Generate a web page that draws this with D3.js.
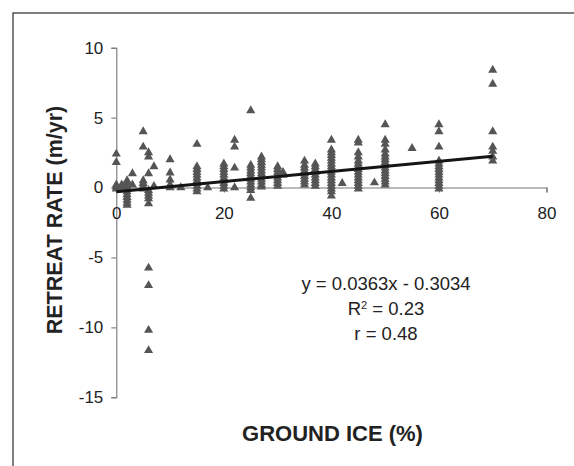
<!DOCTYPE html>
<html>
<head>
<meta charset="utf-8">
<script src="https://cdn.jsdelivr.net/npm/d3@7"></script>
<style>
  html, body { margin: 0; padding: 0; background: #fff; }
  svg { display: block; }
  text { font-family: "Liberation Sans", Arial, sans-serif; fill: #222; }
</style>
</head>
<body>
<svg id="chart" width="574" height="466"></svg>
<script>
// Ground ice content (%) and shoreline retreat rate (m/yr), grouped by ice column
const groundIce = [
  0, 0, 0, 0, 0,
  1, 1, 1,
  2, 2, 2, 2, 2, 2, 2, 2, 2, 2,
  3, 3,
  5, 5, 5, 5, 5, 5,
  6, 6, 6, 6, 6, 6, 6, 6, 6, 6, 6, 6,
  7, 7,
  10, 10, 10, 10, 10,
  12,
  15, 15, 15, 15, 15, 15, 15, 15, 15, 15, 15,
  17,
  20, 20, 20, 20, 20, 20, 20, 20, 20, 20,
  22, 22, 22, 22,
  25, 25, 25, 25, 25, 25, 25, 25, 25, 25, 25, 25,
  27, 27, 27, 27, 27, 27, 27, 27, 27, 27, 27, 27,
  30, 30, 30, 30, 30, 30, 30, 30,
  31, 31,
  35, 35, 35, 35, 35, 35, 35, 35, 35,
  37, 37, 37, 37, 37, 37, 37, 37, 37,
  40, 40, 40, 40, 40, 40, 40, 40, 40, 40, 40, 40, 40, 40, 40, 40, 40, 40,
  42,
  45, 45, 45, 45, 45, 45, 45, 45, 45, 45, 45, 45, 45, 45, 45,
  48,
  50, 50, 50, 50, 50, 50, 50, 50, 50, 50, 50, 50, 50, 50, 50, 50,
  55,
  60, 60, 60, 60, 60, 60, 60, 60, 60, 60, 60, 60, 60, 60,
  70, 70, 70, 70, 70, 70, 70
];
const retreatRate = [
  2.4, 1.8, 0.2, 0.05, -0.1,
  0.2, 0.05, -0.05,
  0.5, 0.3, 0.1, -0.1, -0.3, -0.5, -0.7, -0.9, -1.1, -1.25,
  1.0, 0.2,
  4.0, 2.9, 0.5, 0.3, 0.1, -0.1,
  2.5, 2.2, 1.0, -0.2, -0.4, -0.6, -0.8, -1.15, -5.75, -7.0, -10.2, -11.65,
  1.5, 0.1,
  2.0, 1.05, 0.55, 0.2, 0.0,
  0.0,
  3.1, 1.5, 1.3, 1.1, 0.9, 0.7, 0.5, 0.3, 0.1, -0.1, -0.3,
  0.0,
  1.7, 1.5, 1.3, 1.1, 0.9, 0.7, 0.5, 0.3, 0.1, -0.1,
  3.4, 2.9, 1.4, 0.0,
  5.5, 1.6, 1.4, 1.2, 1.0, 0.8, 0.6, 0.4, 0.2, 0.0, -0.2, -0.75,
  2.2, 2.0, 1.8, 1.6, 1.4, 1.2, 1.0, 0.8, 0.6, 0.4, 0.2, 0.05,
  1.5, 1.3, 1.1, 0.9, 0.7, 0.5, 0.3, 0.1,
  1.1, 0.9,
  1.9, 1.6, 1.4, 1.2, 1.0, 0.8, 0.6, 0.4, 0.2,
  1.7, 1.5, 1.3, 1.1, 0.9, 0.7, 0.5, 0.3, 0.1,
  3.4, 2.7, 2.5, 2.3, 2.1, 1.9, 1.7, 1.5, 1.3, 1.1, 0.9, 0.7, 0.5, 0.3, 0.1, -0.1, -0.3, -0.6,
  0.3,
  3.4, 3.2, 2.5, 2.2, 1.9, 1.7, 1.5, 1.3, 1.1, 0.9, 0.7, 0.5, 0.3, 0.1, -0.1,
  0.35,
  4.5, 3.4, 3.1, 2.7, 2.4, 2.2, 2.0, 1.8, 1.6, 1.4, 1.2, 1.0, 0.8, 0.6, 0.4, 0.2,
  2.8,
  4.5, 4.0, 2.9, 1.9, 1.7, 1.5, 1.3, 1.1, 0.9, 0.7, 0.5, 0.3, 0.1, -0.1,
  8.4, 7.4, 4.0, 2.9, 2.6, 2.2, 1.9
];

// Linear fit reported on the chart
const fitSlope = 0.0363;
const fitIntercept = -0.3034;
const fitRange = [0, 70];
const fitLabels = ["y = 0.0363x - 0.3034", "R", "2", " = 0.23", "r = 0.48"];

const xTicks = [0, 20, 40, 60, 80];
const yTicks = [-15, -10, -5, 0, 5, 10];
const xTitle = "GROUND ICE (%)";
const yTitle = "RETREAT RATE (m/yr)";

const svg = d3.select("#chart");

// outer frame (runs off the right and bottom edges)
svg.append("rect")
  .attr("x", 13).attr("y", 13)
  .attr("width", 600).attr("height", 500)
  .attr("fill", "none").attr("stroke", "#3a3a3a").attr("stroke-width", 1.3);

const x = d3.scaleLinear().domain([0, 80]).range([116.3, 546.5]);
const y = d3.scaleLinear().domain([-15, 10]).range([397.3, 47.7]);

// plain hyphen-minus labels
const plain = d => String(d);

// y axis
const yAxis = svg.append("g")
  .attr("transform", `translate(${x(0)},0)`)
  .call(d3.axisLeft(y).tickValues(yTicks).tickSize(5).tickPadding(8).tickFormat(plain));
// x axis along y = 0
const xAxis = svg.append("g")
  .attr("transform", `translate(0,${y(0)})`)
  .call(d3.axisBottom(x).tickValues(xTicks).tickSize(5).tickPadding(14).tickFormat(plain));

[yAxis, xAxis].forEach(g => {
  g.select(".domain").attr("stroke", "#777").attr("stroke-width", 1.1);
  g.selectAll(".tick line").attr("stroke", "#777").attr("stroke-width", 1.1);
  g.selectAll(".tick text")
    .attr("fill", "#222")
    .style("font-family", "'Liberation Sans', Arial, sans-serif")
    .style("font-size", "17px");
});

// data points
const pts = groundIce.map((g, i) => ({ g, r: retreatRate[i] }));
const tri = d3.symbol().type(d3.symbolTriangle).size(36);
svg.append("g").selectAll("path")
  .data(pts)
  .join("path")
  .attr("d", tri)
  .attr("transform", d => `translate(${x(d.g)},${y(d.r)})`)
  .attr("fill", "#555");

// regression line
const fitLine = d3.line().x(d => x(d)).y(d => y(fitSlope * d + fitIntercept));
svg.append("path")
  .datum(fitRange)
  .attr("d", fitLine)
  .attr("fill", "none")
  .attr("stroke", "#151515")
  .attr("stroke-width", 3);

// fit annotation
const ann = svg.append("g").attr("text-anchor", "middle").style("font-size", "18.5px");
ann.append("text").attr("x", 386).attr("y", 290).text(fitLabels[0]);
const r2 = ann.append("text").attr("x", 386).attr("y", 315);
r2.append("tspan").text(fitLabels[1]);
r2.append("tspan").attr("dy", -6).style("font-size", "11px").text(fitLabels[2]);
r2.append("tspan").attr("dy", 6).text(fitLabels[3]);
ann.append("text").attr("x", 386).attr("y", 340).text(fitLabels[4]);

// axis titles
svg.append("text")
  .attr("x", 332.5).attr("y", 441)
  .attr("text-anchor", "middle")
  .style("font-size", "22px").style("font-weight", "bold")
  .text(xTitle);
svg.append("text")
  .attr("transform", "translate(62,220) rotate(-90)")
  .attr("text-anchor", "middle")
  .style("font-size", "21.5px").style("font-weight", "bold")
  .text(yTitle);
</script>
</body>
</html>
